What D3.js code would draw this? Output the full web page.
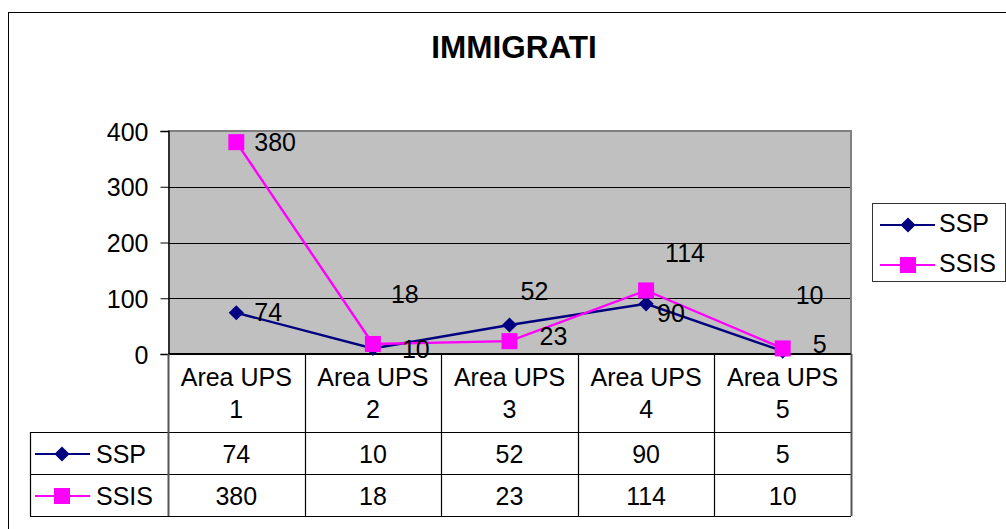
<!DOCTYPE html>
<html>
<head>
<meta charset="utf-8">
<script src="https://cdn.jsdelivr.net/npm/d3@7"></script>
<style>
  html, body { margin: 0; padding: 0; background: #fff; }
  svg { display: block; }
  text { font-family: "Liberation Sans", Arial, sans-serif; fill: #000; }
</style>
</head>
<body>
<svg id="chart" width="1006" height="529"></svg>
<script>
const title = "IMMIGRATI";
const categories = ["Area UPS 1", "Area UPS 2", "Area UPS 3", "Area UPS 4", "Area UPS 5"];
const seriesNames = ["SSP", "SSIS"];
const sspValues = [74, 10, 52, 90, 5];
const ssisValues = [380, 18, 23, 114, 10];
const yTicks = [0, 100, 200, 300, 400];
const colors = ["#000080", "#FF00FF"];
// label nudges (px) relative to each point, mimicking the original placement
const sspLabelNudge = [[18, 8], [29, 10], [11, -25], [11, 18], [30, 2]];
const ssisLabelNudge = [[18, 9], [18, -41], [30, 4], [19, -28], [13, -44]];

const svg = d3.select("#chart");
const plot = { left: 168, right: 851, top: 131, bottom: 354 };
const rowH = [78, 42, 42];

// outer chart border
svg.append("rect").attr("x", 8.5).attr("y", 12.5).attr("width", 1010).attr("height", 530)
  .attr("fill", "#fff").attr("stroke", "#000").attr("stroke-width", 1);

// title
svg.append("text").attr("x", 514).attr("y", 58).attr("text-anchor", "middle")
  .attr("font-size", 31.5).attr("font-weight", "bold").text(title);

const x = d3.scaleBand().domain(categories).range([plot.left, plot.right]);
const y = d3.scaleLinear().domain([0, 400]).range([plot.bottom, plot.top]);
const cx = c => x(c) + x.bandwidth() / 2;

// plot background
svg.append("rect").attr("x", plot.left).attr("y", plot.top)
  .attr("width", plot.right - plot.left).attr("height", plot.bottom - plot.top)
  .attr("fill", "#C0C0C0");

// gridlines
svg.append("g").selectAll("line").data(yTicks.filter(t => t > 0)).join("line")
  .attr("x1", plot.left).attr("x2", plot.right)
  .attr("y1", d => Math.round(y(d)) + 0.5).attr("y2", d => Math.round(y(d)) + 0.5)
  .attr("stroke", "#000").attr("stroke-width", 1);

// plot border (top/right gray)
svg.append("path")
  .attr("d", `M${plot.left},${plot.top}H${plot.right}V${plot.bottom}`)
  .attr("fill", "none").attr("stroke", "#808080").attr("stroke-width", 2);

// y axis
const yAxis = svg.append("g").attr("transform", `translate(${plot.left + 0.5},0)`)
  .call(d3.axisLeft(y).tickValues(yTicks).tickSize(8).tickPadding(12));
yAxis.select(".domain").attr("stroke", "#000").attr("stroke-width", 1.5);
yAxis.selectAll(".tick line").attr("stroke", "#000");
yAxis.selectAll(".tick text").attr("font-size", 25)
  .attr("font-family", '"Liberation Sans", Arial, sans-serif').attr("fill", "#000").attr("dy", "0.36em");

// table
const tTop = plot.bottom;
const rowY = [tTop, tTop + rowH[0], tTop + rowH[0] + rowH[1], tTop + rowH[0] + rowH[1] + rowH[2]];
const tLeft = 30;
const tg = svg.append("g");
tg.append("line").attr("x1", plot.left).attr("x2", plot.right).attr("y1", rowY[0]).attr("y2", rowY[0])
  .attr("stroke", "#000").attr("stroke-width", 2);
[1, 2, 3].forEach(i => {
  tg.append("line").attr("x1", tLeft).attr("x2", plot.right)
    .attr("y1", rowY[i] + 0.5).attr("y2", rowY[i] + 0.5).attr("stroke", "#000").attr("stroke-width", 1.2);
});
tg.append("line").attr("x1", tLeft + 0.5).attr("x2", tLeft + 0.5).attr("y1", rowY[1]).attr("y2", rowY[3])
  .attr("stroke", "#000").attr("stroke-width", 1.2);
const colEdges = categories.map(c => x(c)).concat([plot.right]);
tg.selectAll("line.col").data(colEdges).join("line").attr("class", "col")
  .attr("x1", d => Math.round(d) + 0.5).attr("x2", d => Math.round(d) + 0.5)
  .attr("y1", rowY[0]).attr("y2", rowY[3])
  .attr("stroke", (d, i) => (i === 0 || i === 5) ? "#555" : "#000")
  .attr("stroke-width", (d, i) => (i === 0 || i === 5) ? 2 : 1.2);

// header labels
categories.forEach(c => {
  const k = c.lastIndexOf(" ");
  const t = tg.append("text").attr("text-anchor", "middle").attr("font-size", 25);
  t.append("tspan").attr("x", cx(c)).attr("y", 386).text(c.slice(0, k));
  t.append("tspan").attr("x", cx(c)).attr("y", 418).text(c.slice(k + 1));
});

const allSeries = [sspValues, ssisValues];
const rowBaselines = [463, 505];
function marker(g, i, px, py) {
  if (i === 0) {
    g.append("path").attr("d", d3.symbol().type(d3.symbolSquare).size(115)())
      .attr("transform", `translate(${px},${py}) rotate(45)`).attr("fill", colors[0]);
  } else {
    g.append("rect").attr("x", px - 8).attr("y", py - 8).attr("width", 16).attr("height", 16)
      .attr("fill", colors[1]);
  }
}

allSeries.forEach((vals, i) => {
  const by = rowBaselines[i];
  const ky = by - 9;
  tg.append("line").attr("x1", 35).attr("x2", 90).attr("y1", ky).attr("y2", ky)
    .attr("stroke", colors[i]).attr("stroke-width", 2);
  marker(tg, i, 62, ky);
  tg.append("text").attr("x", 96).attr("y", by).attr("font-size", 25).text(seriesNames[i]);
  vals.forEach((v, j) => {
    tg.append("text").attr("x", cx(categories[j])).attr("y", by)
      .attr("text-anchor", "middle").attr("font-size", 25).text(v);
  });
});

// lines and markers
const line = d3.line().x((d, j) => cx(categories[j])).y(d => y(d));
const nudges = [sspLabelNudge, ssisLabelNudge];
allSeries.forEach((vals, i) => {
  const g = svg.append("g");
  g.append("path").attr("d", line(vals)).attr("fill", "none")
    .attr("stroke", colors[i]).attr("stroke-width", 2.4);
  vals.forEach((v, j) => marker(g, i, cx(categories[j]), y(v)));
});
allSeries.forEach((vals, i) => {
  vals.forEach((v, j) => {
    svg.append("text").attr("x", cx(categories[j]) + nudges[i][j][0])
      .attr("y", y(v) + nudges[i][j][1]).attr("font-size", 25).text(v);
  });
});

// legend
const lg = svg.append("g");
lg.append("rect").attr("x", 872.5).attr("y", 203.5).attr("width", 133).attr("height", 78)
  .attr("fill", "#fff").attr("stroke", "#333").attr("stroke-width", 1);
seriesNames.forEach((n, i) => {
  const ly = 225 + i * 40;
  lg.append("line").attr("x1", 880).attr("x2", 935).attr("y1", ly).attr("y2", ly)
    .attr("stroke", colors[i]).attr("stroke-width", 2);
  marker(lg, i, 908, ly);
  lg.append("text").attr("x", 939).attr("y", ly + 7)
    .attr("font-size", 25).text(n);
});
</script>
</body>
</html>
